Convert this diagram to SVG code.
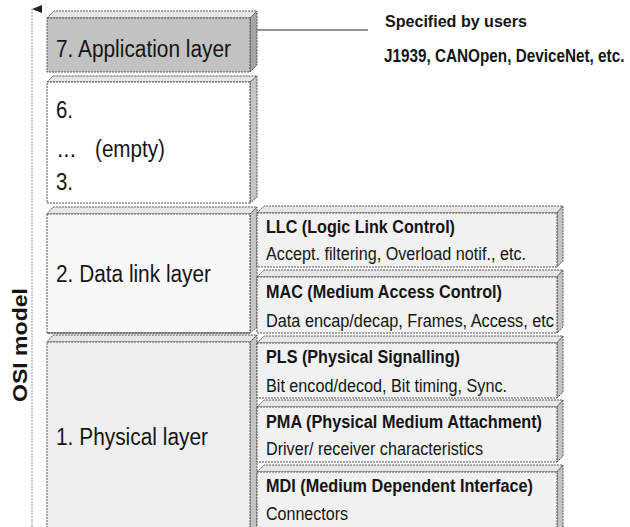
<svg xmlns="http://www.w3.org/2000/svg" width="630" height="527" viewBox="0 0 630 527">
  <style>
    .face { stroke: #555; stroke-width: 1; stroke-dasharray: 2,1; }
    .side { fill: #c4c4c4; }
    .top { fill: #e6e6e6; }
    .lbl { font-family: "Liberation Sans", Arial, sans-serif; font-size: 23px; fill: #151515; }
    .hd { font-family: "Liberation Sans", Arial, sans-serif; font-size: 17.5px; font-weight: bold; fill: #151515; }
    .sub { font-family: "Liberation Sans", Arial, sans-serif; font-size: 17.5px; fill: #151515; }
  </style>
  <defs>
    <marker id="arrowUp" viewBox="0 0 8 10" refX="4" refY="0" markerWidth="8" markerHeight="10" markerUnits="userSpaceOnUse" orient="auto-start-reverse">
      <path d="M0,10 L4,0 L8,10 Z" fill="#222"/>
    </marker>
  </defs>
  <rect width="630" height="527" fill="#ffffff"/>

  <!-- connectors -->
  <g id="connectors">
    <line x1="32" y1="527" x2="32" y2="9" stroke="#999" stroke-width="1" stroke-dasharray="2,1" marker-end="url(#arrowUp)"/>
    <line x1="257" y1="30" x2="368" y2="30" stroke="#222" stroke-width="1.2"/>
  </g>

  <!-- left column: OSI layers -->
  <g id="layer7">
    <polygon class="face top" points="47,18 54,11 257,11 250,18" fill="#d4d4d4"/>
    <polygon class="face" points="250,18 257,11 257,65 250,72" fill="#a4a4a4"/>
    <rect class="face" x="47" y="18" width="203" height="54" fill="#c2c2c2"/>
    <text class="lbl" x="56" y="57" textLength="175" lengthAdjust="spacingAndGlyphs">7. Application layer</text>
  </g>

  <g id="layer6to3">
    <polygon class="face top" points="47,82 53,76 257,76 250,82" fill="#f2f2f2"/>
    <polygon class="face side" points="250,82 257,76 257,197 250,203"/>
    <rect class="face" x="47" y="82" width="203" height="121" fill="#ffffff"/>
    <text class="lbl" x="56" y="118" textLength="17" lengthAdjust="spacingAndGlyphs">6.</text>
    <text class="lbl" x="57" y="157" textLength="19" lengthAdjust="spacingAndGlyphs">...</text>
    <text class="lbl" x="95" y="157" textLength="70" lengthAdjust="spacingAndGlyphs">(empty)</text>
    <text class="lbl" x="56" y="190" textLength="17" lengthAdjust="spacingAndGlyphs">3.</text>
  </g>

  <g id="layer2">
    <polygon class="face top" points="47,214 53,207 257,207 250,214" fill="#f0f0f0"/>
    <polygon class="face side" points="250,214 257,207 257,327 250,333"/>
    <rect class="face" x="47" y="214" width="203" height="119" fill="#f8f8f8"/>
    <line x1="47" y1="333" x2="250" y2="333" stroke="#444" stroke-width="1.2"/>
    <text class="lbl" x="56" y="282" textLength="155" lengthAdjust="spacingAndGlyphs">2. Data link layer</text>
  </g>

  <g id="layer1">
    <polygon class="face top" points="47,342 53,335 257,335 250,342" fill="#e8e8e8"/>
    <polygon class="face side" points="250,342 257,335 257,530 250,530"/>
    <rect class="face" x="47" y="342" width="203" height="190" fill="#efefef"/>
    <text class="lbl" x="56" y="445" textLength="152" lengthAdjust="spacingAndGlyphs">1. Physical layer</text>
  </g>

  <!-- right column: CAN sublayers -->
  <g id="llc">
    <polygon class="face top" points="257,213 264,206 563,206 557,213"/>
    <polygon class="face side" points="557,213 563,206 563,261 557,267"/>
    <rect class="face" x="257" y="213" width="300" height="54" fill="#f1f1f1"/>
    <text class="hd" x="266" y="233" textLength="189" lengthAdjust="spacingAndGlyphs">LLC (Logic Link Control)</text>
    <text class="sub" x="266" y="260" textLength="260" lengthAdjust="spacingAndGlyphs">Accept. filtering, Overload notif., etc.</text>
  </g>

  <g id="mac">
    <polygon class="face top" points="257,277 264,270 563,270 557,277"/>
    <polygon class="face side" points="557,277 563,270 563,327 557,333"/>
    <rect class="face" x="257" y="277" width="300" height="56" fill="#f1f1f1"/>
    <text class="hd" x="266" y="298" textLength="236" lengthAdjust="spacingAndGlyphs">MAC (Medium Access Control)</text>
    <text class="sub" x="266" y="327" textLength="288" lengthAdjust="spacingAndGlyphs">Data encap/decap, Frames, Access, etc</text>
  </g>

  <g id="pls">
    <polygon class="face top" points="257,343 264,336 563,336 557,343"/>
    <polygon class="face side" points="557,343 563,336 563,392 557,398"/>
    <rect class="face" x="257" y="343" width="300" height="55" fill="#f1f1f1"/>
    <text class="hd" x="266" y="363" textLength="194" lengthAdjust="spacingAndGlyphs">PLS (Physical Signalling)</text>
    <text class="sub" x="266" y="392" textLength="241" lengthAdjust="spacingAndGlyphs">Bit encod/decod, Bit timing, Sync.</text>
  </g>

  <g id="pma">
    <polygon class="face top" points="257,407 264,400 563,400 557,407"/>
    <polygon class="face side" points="557,407 563,400 563,456 557,462"/>
    <rect class="face" x="257" y="407" width="300" height="55" fill="#f1f1f1"/>
    <text class="hd" x="266" y="428" textLength="276" lengthAdjust="spacingAndGlyphs">PMA (Physical Medium Attachment)</text>
    <text class="sub" x="266" y="455" textLength="217" lengthAdjust="spacingAndGlyphs">Driver/ receiver characteristics</text>
  </g>

  <g id="mdi">
    <polygon class="face top" points="257,472 264,465 563,465 557,472"/>
    <polygon class="face side" points="557,472 563,465 563,530 557,530"/>
    <rect class="face" x="257" y="472" width="300" height="60" fill="#f1f1f1"/>
    <text class="hd" x="266" y="492" textLength="267" lengthAdjust="spacingAndGlyphs">MDI (Medium Dependent Interface)</text>
    <text class="sub" x="266" y="520" textLength="82" lengthAdjust="spacingAndGlyphs">Connectors</text>
  </g>

  <!-- annotations -->
  <g id="application-note">
    <text class="hd" x="385" y="27" style="font-size:17px" textLength="142" lengthAdjust="spacingAndGlyphs">Specified by users</text>
    <text class="hd" x="0" y="0" transform="translate(384,62) scale(1,1.15)" style="font-size:15.3px">J1939, CANOpen, DeviceNet, etc.</text>
  </g>

  <g id="axis-label">
    <text class="hd" x="0" y="0" transform="translate(27,345) rotate(-90)" text-anchor="middle" style="font-size:21px" textLength="114" lengthAdjust="spacingAndGlyphs">OSI model</text>
  </g>
</svg>
